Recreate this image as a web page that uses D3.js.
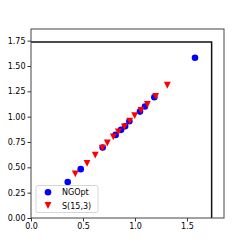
<!DOCTYPE html>
<html>
<head>
<meta charset="utf-8">
<script src="https://cdn.jsdelivr.net/npm/d3@7"></script>
<style>
  body { margin: 0; background: #fff; }
  text { font-family: "DejaVu Sans", sans-serif; }
</style>
</head>
<body>
<div id="chart"></div>
<script>
var margin = {top: 29, right: 25, bottom: 31, left: 31},
    width = 249 - margin.left - margin.right,
    height = 249 - margin.top - margin.bottom;

// données
var ngoptX = [0.353, 0.478, 0.689, 0.814, 0.866, 0.905, 0.946, 1.048, 1.096, 1.186, 1.577];
var ngoptY = [0.355, 0.482, 0.695, 0.820, 0.870, 0.905, 0.955, 1.050, 1.100, 1.192, 1.581];
var sX = [0.426, 0.539, 0.618, 0.686, 0.734, 0.792, 0.840, 0.898, 0.949, 0.997, 1.058, 1.119, 1.199, 1.311];
var sY = [0.435, 0.540, 0.620, 0.690, 0.740, 0.800, 0.850, 0.900, 0.955, 1.010, 1.063, 1.120, 1.200, 1.310];
var boundValue = 1.737;
var xTicks = [0.0, 0.5, 1.0, 1.5];
var yTicks = [0, 0.25, 0.5, 0.75, 1.0, 1.25, 1.5, 1.75];

var svg = d3.select("#chart")
            .append("svg")
            .attr("width", 249)
            .attr("height", 249)
            .append("g")
            .attr("transform", "translate(" + margin.left + "," + margin.top + ")");

var xScale = d3.scaleLinear().domain([0, 1.856]).range([0, width]);
var yScale = d3.scaleLinear().domain([0, 1.865]).range([height, 0]);

// cadre noir
svg.append("path")
   .attr("d", "M" + xScale(0) + "," + yScale(boundValue) +
              "L" + xScale(boundValue) + "," + yScale(boundValue) +
              "L" + xScale(boundValue) + "," + yScale(0))
   .attr("fill", "none")
   .attr("stroke", "#111")
   .attr("stroke-width", 1.5);

// axes
var xAxis = svg.append("g")
   .attr("transform", "translate(0," + height + ")")
   .call(d3.axisBottom(xScale).tickValues(xTicks).tickFormat(d3.format(".1f")).tickSizeOuter(0).tickSize(3.5).tickPadding(2));
var yAxis = svg.append("g")
   .call(d3.axisLeft(yScale).tickValues(yTicks).tickFormat(d3.format(".2f")).tickSizeOuter(0).tickSize(3.5).tickPadding(2));
svg.selectAll(".tick text").style("font-size", "8px").attr("fill", "#000");
svg.selectAll(".tick line").attr("stroke", "#333");
svg.selectAll(".domain").remove();

// spines
svg.append("rect")
   .attr("x", 0).attr("y", 0)
   .attr("width", width).attr("height", height)
   .attr("fill", "none")
   .attr("stroke", "#444")
   .attr("stroke-width", 1);

// NGOpt
svg.selectAll(".dot")
   .data(ngoptX.map(function(d, i) { return {x: d, y: ngoptY[i]}; }))
   .enter().append("circle")
   .attr("class", "dot")
   .attr("cx", function(d) { return xScale(d.x); })
   .attr("cy", function(d) { return yScale(d.y); })
   .attr("r", 3.3)
   .attr("fill", "#0000ff");

function triDown(cx, cy, s) {
  return "M" + (cx - s) + "," + (cy - s) + "L" + (cx + s) + "," + (cy - s) + "L" + cx + "," + (cy + s) + "Z";
}

// S(15,3)
svg.selectAll(".tri")
   .data(sX.map(function(d, i) { return {x: d, y: sY[i]}; }))
   .enter().append("path")
   .attr("class", "tri")
   .attr("d", function(d) { return triDown(xScale(d.x), yScale(d.y), 3.4); })
   .attr("fill", "#ff0000");

// légende
var legend = svg.append("g").attr("transform", "translate(5," + (height - 32.5) + ")");
legend.append("rect")
   .attr("width", 62).attr("height", 27)
   .attr("rx", 2)
   .attr("fill", "rgba(255,255,255,0.8)")
   .attr("stroke", "#ccc")
   .attr("stroke-width", 0.8);
legend.append("circle").attr("cx", 12).attr("cy", 6.8).attr("r", 3.3).attr("fill", "#0000ff");
legend.append("path").attr("d", triDown(12, 20, 3.4)).attr("fill", "#ff0000");
legend.append("text").attr("x", 26).attr("y", 9.8).style("font-size", "8px").text("NGOpt");
legend.append("text").attr("x", 26).attr("y", 23).style("font-size", "8px").text("S(15,3)");
</script>
</body>
</html>
